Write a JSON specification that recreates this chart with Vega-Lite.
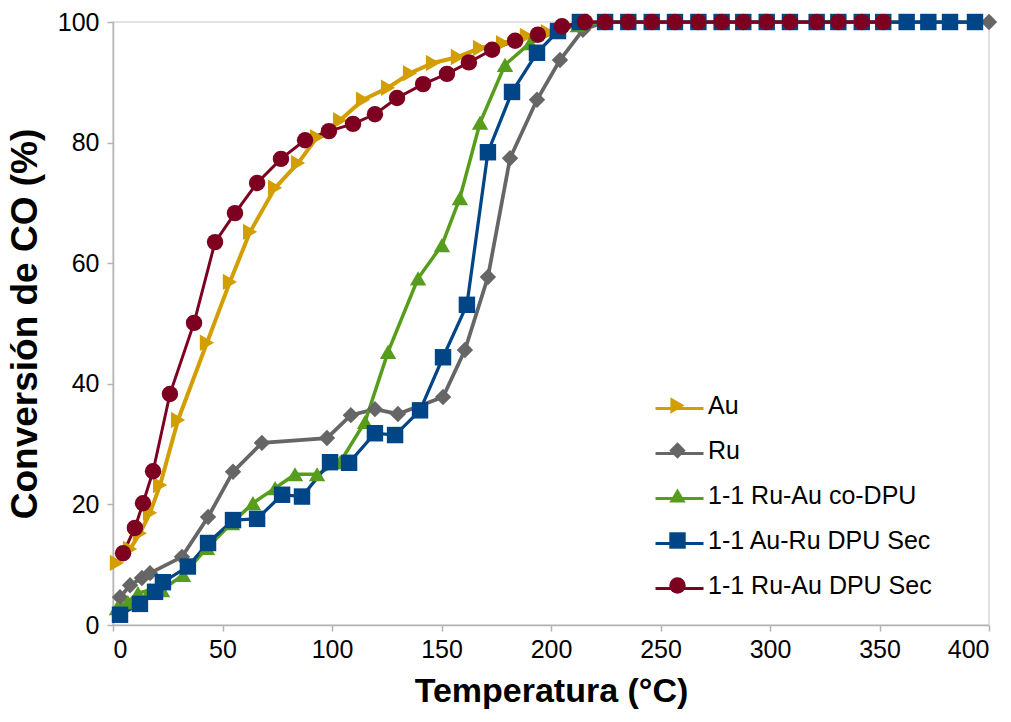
{
  "$schema": "https://vega.github.io/schema/vega-lite/v6.json",
  "width": 876,
  "height": 603,
  "autosize": {"type": "none"},
  "padding": {"left": 113, "top": 22, "right": 22, "bottom": 97},
  "background": "white",
  "config": {
    "font": "Liberation Sans",
    "view": {"stroke": "#d9d9d9", "strokeWidth": 1.5},
    "axis": {
      "grid": false,
      "domainColor": "#b3b3b3",
      "domainWidth": 1.5,
      "tickColor": "#b3b3b3",
      "tickWidth": 1.5,
      "tickSize": 6,
      "labelFont": "Liberation Sans",
      "labelFontSize": 25,
      "labelColor": "#000000",
      "titleFont": "Liberation Sans",
      "titleFontWeight": "bold",
      "titleColor": "#000000"
    },
    "legend": {"labelFont": "Liberation Sans", "labelFontSize": 25, "labelColor": "#000000", "labelLimit": 400}
  },
  "data": {
    "values": [
      {"s": "Au", "t": 1.8, "c": 10.3}, {"s": "Au", "t": 7.8, "c": 12.6}, {"s": "Au", "t": 12.3, "c": 15.2},
      {"s": "Au", "t": 16.9, "c": 18.6}, {"s": "Au", "t": 21.5, "c": 23.2}, {"s": "Au", "t": 29.7, "c": 34.0},
      {"s": "Au", "t": 42.9, "c": 46.8}, {"s": "Au", "t": 53.4, "c": 56.9}, {"s": "Au", "t": 62.6, "c": 65.2},
      {"s": "Au", "t": 74.0, "c": 72.5}, {"s": "Au", "t": 84.5, "c": 76.6}, {"s": "Au", "t": 93.2, "c": 80.9},
      {"s": "Au", "t": 103.7, "c": 83.7}, {"s": "Au", "t": 114.2, "c": 87.1}, {"s": "Au", "t": 125.6, "c": 89.1},
      {"s": "Au", "t": 135.6, "c": 91.5}, {"s": "Au", "t": 146.1, "c": 93.2}, {"s": "Au", "t": 157.5, "c": 94.2},
      {"s": "Au", "t": 167.6, "c": 95.7}, {"s": "Au", "t": 178.1, "c": 96.5}, {"s": "Au", "t": 189.0, "c": 97.7},
      {"s": "Au", "t": 198.6, "c": 98.3},

      {"s": "Ru", "t": 3.2, "c": 4.6}, {"s": "Ru", "t": 7.8, "c": 6.6}, {"s": "Ru", "t": 13.2, "c": 7.8},
      {"s": "Ru", "t": 16.9, "c": 8.6}, {"s": "Ru", "t": 31.5, "c": 11.3}, {"s": "Ru", "t": 43.4, "c": 17.9},
      {"s": "Ru", "t": 54.8, "c": 25.4}, {"s": "Ru", "t": 68.0, "c": 30.2}, {"s": "Ru", "t": 97.7, "c": 31.0},
      {"s": "Ru", "t": 108.6, "c": 34.8}, {"s": "Ru", "t": 119.6, "c": 35.8}, {"s": "Ru", "t": 130.1, "c": 35.0},
      {"s": "Ru", "t": 150.7, "c": 37.8}, {"s": "Ru", "t": 160.7, "c": 45.6}, {"s": "Ru", "t": 171.2, "c": 57.7},
      {"s": "Ru", "t": 181.3, "c": 77.4}, {"s": "Ru", "t": 193.6, "c": 87.1}, {"s": "Ru", "t": 204.1, "c": 93.7},
      {"s": "Ru", "t": 214.6, "c": 98.7}, {"s": "Ru", "t": 224.7, "c": 100}, {"s": "Ru", "t": 235.3, "c": 100},
      {"s": "Ru", "t": 246.0, "c": 100}, {"s": "Ru", "t": 256.6, "c": 100}, {"s": "Ru", "t": 267.3, "c": 100},
      {"s": "Ru", "t": 277.9, "c": 100}, {"s": "Ru", "t": 287.8, "c": 100}, {"s": "Ru", "t": 298.5, "c": 100},
      {"s": "Ru", "t": 309.1, "c": 100}, {"s": "Ru", "t": 321.3, "c": 100}, {"s": "Ru", "t": 331.2, "c": 100},
      {"s": "Ru", "t": 400, "c": 100},

      {"s": "1-1 Ru-Au co-DPU", "t": 1.8, "c": 2.8}, {"s": "1-1 Ru-Au co-DPU", "t": 6.8, "c": 3.8},
      {"s": "1-1 Ru-Au co-DPU", "t": 11.4, "c": 5.3}, {"s": "1-1 Ru-Au co-DPU", "t": 16.9, "c": 5.8},
      {"s": "1-1 Ru-Au co-DPU", "t": 22.4, "c": 5.8}, {"s": "1-1 Ru-Au co-DPU", "t": 32.0, "c": 8.3},
      {"s": "1-1 Ru-Au co-DPU", "t": 42.9, "c": 12.8}, {"s": "1-1 Ru-Au co-DPU", "t": 54.3, "c": 16.9},
      {"s": "1-1 Ru-Au co-DPU", "t": 63.9, "c": 20.2}, {"s": "1-1 Ru-Au co-DPU", "t": 74.0, "c": 22.7},
      {"s": "1-1 Ru-Au co-DPU", "t": 83.1, "c": 25.0}, {"s": "1-1 Ru-Au co-DPU", "t": 93.2, "c": 25.0},
      {"s": "1-1 Ru-Au co-DPU", "t": 103.7, "c": 27.0}, {"s": "1-1 Ru-Au co-DPU", "t": 115.1, "c": 33.7},
      {"s": "1-1 Ru-Au co-DPU", "t": 125.6, "c": 45.3}, {"s": "1-1 Ru-Au co-DPU", "t": 139.3, "c": 57.5},
      {"s": "1-1 Ru-Au co-DPU", "t": 150.2, "c": 63.0}, {"s": "1-1 Ru-Au co-DPU", "t": 158.4, "c": 70.8},
      {"s": "1-1 Ru-Au co-DPU", "t": 167.6, "c": 83.3}, {"s": "1-1 Ru-Au co-DPU", "t": 179.0, "c": 92.9},
      {"s": "1-1 Ru-Au co-DPU", "t": 190.4, "c": 96.5}, {"s": "1-1 Ru-Au co-DPU", "t": 202.7, "c": 98.5},
      {"s": "1-1 Ru-Au co-DPU", "t": 212.3, "c": 99.5}, {"s": "1-1 Ru-Au co-DPU", "t": 224.7, "c": 100},

      {"s": "1-1 Au-Ru DPU Sec", "t": 3.2, "c": 1.7}, {"s": "1-1 Au-Ru DPU Sec", "t": 12.3, "c": 3.5},
      {"s": "1-1 Au-Ru DPU Sec", "t": 19.2, "c": 5.5}, {"s": "1-1 Au-Ru DPU Sec", "t": 22.8, "c": 7.1},
      {"s": "1-1 Au-Ru DPU Sec", "t": 34.2, "c": 9.7}, {"s": "1-1 Au-Ru DPU Sec", "t": 43.4, "c": 13.6},
      {"s": "1-1 Au-Ru DPU Sec", "t": 54.8, "c": 17.4}, {"s": "1-1 Au-Ru DPU Sec", "t": 65.8, "c": 17.6},
      {"s": "1-1 Au-Ru DPU Sec", "t": 77.2, "c": 21.6}, {"s": "1-1 Au-Ru DPU Sec", "t": 86.3, "c": 21.3},
      {"s": "1-1 Au-Ru DPU Sec", "t": 99.1, "c": 27.0}, {"s": "1-1 Au-Ru DPU Sec", "t": 107.8, "c": 26.9},
      {"s": "1-1 Au-Ru DPU Sec", "t": 119.6, "c": 31.8}, {"s": "1-1 Au-Ru DPU Sec", "t": 128.8, "c": 31.5},
      {"s": "1-1 Au-Ru DPU Sec", "t": 140.2, "c": 35.6}, {"s": "1-1 Au-Ru DPU Sec", "t": 150.7, "c": 44.4},
      {"s": "1-1 Au-Ru DPU Sec", "t": 161.6, "c": 53.1}, {"s": "1-1 Au-Ru DPU Sec", "t": 171.2, "c": 78.4},
      {"s": "1-1 Au-Ru DPU Sec", "t": 182.2, "c": 88.4}, {"s": "1-1 Au-Ru DPU Sec", "t": 193.6, "c": 94.9},
      {"s": "1-1 Au-Ru DPU Sec", "t": 203.2, "c": 98.5}, {"s": "1-1 Au-Ru DPU Sec", "t": 213.2, "c": 100},
      {"s": "1-1 Au-Ru DPU Sec", "t": 224.7, "c": 100}, {"s": "1-1 Au-Ru DPU Sec", "t": 235.3, "c": 100},
      {"s": "1-1 Au-Ru DPU Sec", "t": 246.0, "c": 100}, {"s": "1-1 Au-Ru DPU Sec", "t": 256.6, "c": 100},
      {"s": "1-1 Au-Ru DPU Sec", "t": 267.3, "c": 100}, {"s": "1-1 Au-Ru DPU Sec", "t": 277.9, "c": 100},
      {"s": "1-1 Au-Ru DPU Sec", "t": 287.8, "c": 100}, {"s": "1-1 Au-Ru DPU Sec", "t": 298.5, "c": 100},
      {"s": "1-1 Au-Ru DPU Sec", "t": 309.1, "c": 100}, {"s": "1-1 Au-Ru DPU Sec", "t": 321.3, "c": 100},
      {"s": "1-1 Au-Ru DPU Sec", "t": 331.2, "c": 100}, {"s": "1-1 Au-Ru DPU Sec", "t": 341.9, "c": 100},
      {"s": "1-1 Au-Ru DPU Sec", "t": 351.7, "c": 100}, {"s": "1-1 Au-Ru DPU Sec", "t": 362.4, "c": 100},
      {"s": "1-1 Au-Ru DPU Sec", "t": 372.3, "c": 100}, {"s": "1-1 Au-Ru DPU Sec", "t": 382.2, "c": 100},
      {"s": "1-1 Au-Ru DPU Sec", "t": 393.6, "c": 100},

      {"s": "1-1 Ru-Au DPU Sec", "t": 4.6, "c": 11.9}, {"s": "1-1 Ru-Au DPU Sec", "t": 10.0, "c": 16.1},
      {"s": "1-1 Ru-Au DPU Sec", "t": 13.7, "c": 20.2}, {"s": "1-1 Ru-Au DPU Sec", "t": 18.3, "c": 25.5},
      {"s": "1-1 Ru-Au DPU Sec", "t": 26.0, "c": 38.3}, {"s": "1-1 Ru-Au DPU Sec", "t": 37.0, "c": 50.1},
      {"s": "1-1 Ru-Au DPU Sec", "t": 46.6, "c": 63.5}, {"s": "1-1 Ru-Au DPU Sec", "t": 55.7, "c": 68.3},
      {"s": "1-1 Ru-Au DPU Sec", "t": 65.8, "c": 73.3}, {"s": "1-1 Ru-Au DPU Sec", "t": 76.7, "c": 77.3},
      {"s": "1-1 Ru-Au DPU Sec", "t": 87.7, "c": 80.4}, {"s": "1-1 Ru-Au DPU Sec", "t": 98.6, "c": 81.9},
      {"s": "1-1 Ru-Au DPU Sec", "t": 109.6, "c": 83.1}, {"s": "1-1 Ru-Au DPU Sec", "t": 119.6, "c": 84.7},
      {"s": "1-1 Ru-Au DPU Sec", "t": 129.7, "c": 87.4}, {"s": "1-1 Ru-Au DPU Sec", "t": 141.6, "c": 89.7},
      {"s": "1-1 Ru-Au DPU Sec", "t": 152.5, "c": 91.4}, {"s": "1-1 Ru-Au DPU Sec", "t": 162.5, "c": 93.3},
      {"s": "1-1 Ru-Au DPU Sec", "t": 173.1, "c": 95.4}, {"s": "1-1 Ru-Au DPU Sec", "t": 183.6, "c": 96.9},
      {"s": "1-1 Ru-Au DPU Sec", "t": 194.0, "c": 97.9}, {"s": "1-1 Ru-Au DPU Sec", "t": 205.0, "c": 99.3},
      {"s": "1-1 Ru-Au DPU Sec", "t": 215.5, "c": 100}, {"s": "1-1 Ru-Au DPU Sec", "t": 224.7, "c": 100},
      {"s": "1-1 Ru-Au DPU Sec", "t": 235.3, "c": 100}, {"s": "1-1 Ru-Au DPU Sec", "t": 246.0, "c": 100},
      {"s": "1-1 Ru-Au DPU Sec", "t": 256.6, "c": 100}, {"s": "1-1 Ru-Au DPU Sec", "t": 267.3, "c": 100},
      {"s": "1-1 Ru-Au DPU Sec", "t": 277.9, "c": 100}, {"s": "1-1 Ru-Au DPU Sec", "t": 287.8, "c": 100},
      {"s": "1-1 Ru-Au DPU Sec", "t": 298.5, "c": 100}, {"s": "1-1 Ru-Au DPU Sec", "t": 309.1, "c": 100},
      {"s": "1-1 Ru-Au DPU Sec", "t": 321.3, "c": 100}, {"s": "1-1 Ru-Au DPU Sec", "t": 331.2, "c": 100},
      {"s": "1-1 Ru-Au DPU Sec", "t": 341.9, "c": 100}, {"s": "1-1 Ru-Au DPU Sec", "t": 351.7, "c": 100}
    ]
  },
  "encoding": {
    "x": {
      "field": "t", "type": "quantitative",
      "scale": {"domain": [0, 400], "nice": false},
      "axis": {"values": [0, 50, 100, 150, 200, 250, 300, 350, 400], "labelPadding": 6, "title": "Temperatura (°C)", "titleFontSize": 34, "titlePadding": 12}
    },
    "y": {
      "field": "c", "type": "quantitative",
      "scale": {"domain": [0, 100], "nice": false},
      "axis": {"values": [0, 20, 40, 60, 80, 100], "labelPadding": 8, "title": "Conversión de CO (%)", "titleFontSize": 37, "titlePadding": 13}
    }
  },
  "layer": [
    {
      "mark": {"type": "line", "clip": false},
      "encoding": {
        "stroke": {
          "field": "s", "type": "nominal",
          "sort": ["Au", "Ru", "1-1 Ru-Au co-DPU", "1-1 Au-Ru DPU Sec", "1-1 Ru-Au DPU Sec"],
          "scale": {"range": ["#d39e00", "#666666", "#579d1c", "#004586", "#7e0021"]},
          "legend": {
            "orient": "none", "legendX": 541, "legendY": 361, "title": null,
            "symbolType": "stroke", "symbolSize": 2304, "symbolStrokeWidth": 3,
            "labelExpr": "''", "rowPadding": 6
          }
        },
        "strokeWidth": {
          "field": "s", "type": "nominal",
          "sort": ["Au", "Ru", "1-1 Ru-Au co-DPU", "1-1 Au-Ru DPU Sec", "1-1 Ru-Au DPU Sec"],
          "scale": {"range": [4, 3, 3, 3, 3]},
          "legend": null
        }
      }
    },
    {
      "mark": {"type": "point", "filled": true, "size": 270, "opacity": 1, "strokeWidth": 0, "clip": false},
      "encoding": {
        "fill": {
          "field": "s", "type": "nominal",
          "scale": {
            "domain": ["Au", "Ru", "1-1 Ru-Au co-DPU", "1-1 Au-Ru DPU Sec", "1-1 Ru-Au DPU Sec"],
            "range": ["#d39e00", "#666666", "#579d1c", "#004586", "#7e0021"]
          },
          "legend": {
            "orient": "none", "legendX": 552, "legendY": 371, "title": null,
            "symbolSize": 270, "symbolStrokeWidth": 0, "labelOffset": 18, "rowPadding": 19
          }
        },
        "shape": {
          "field": "s", "type": "nominal",
          "scale": {
            "domain": ["Au", "Ru", "1-1 Ru-Au co-DPU", "1-1 Au-Ru DPU Sec", "1-1 Ru-Au DPU Sec"],
            "range": ["triangle-right", "diamond", "triangle-up", "square", "circle"]
          }
        }
      }
    }
  ]
}
